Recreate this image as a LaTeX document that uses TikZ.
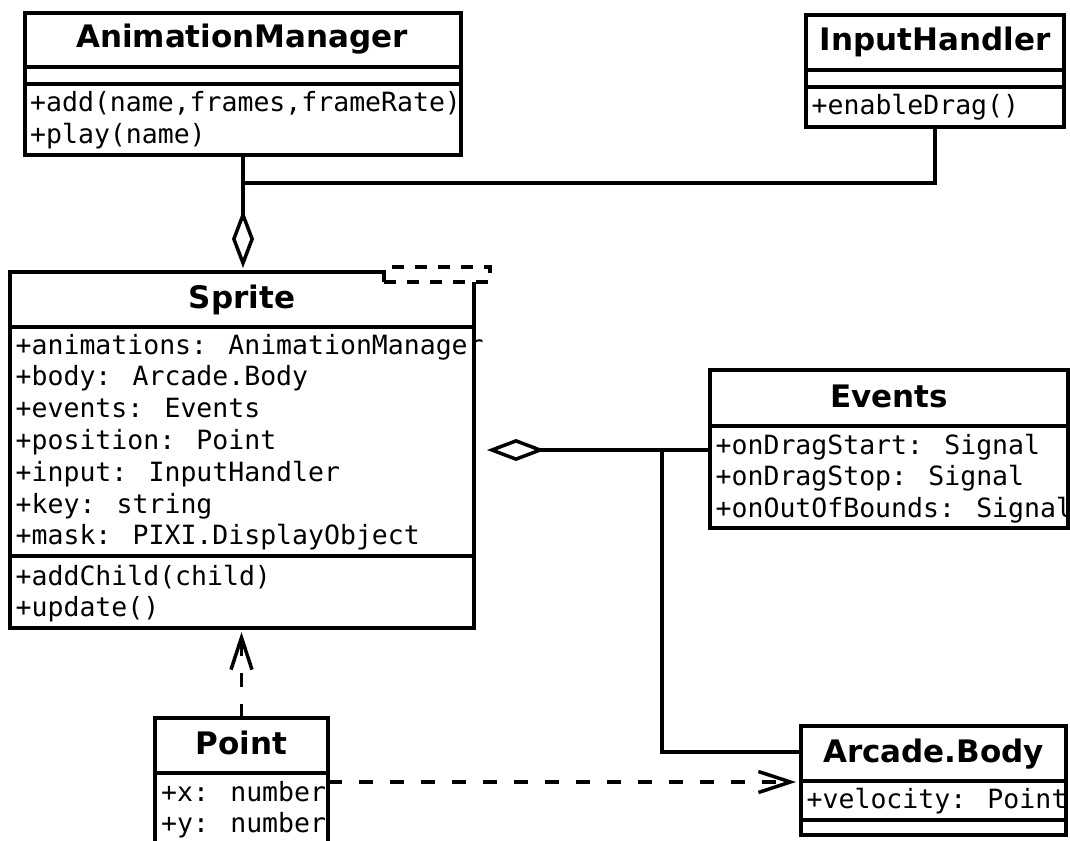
\documentclass[tikz,border=0pt]{standalone}
\usepackage{fontspec}
\newfontfamily\hdrfont{DejaVu Sans}
\newfontfamily\memfont{DejaVu Sans Mono}
\usetikzlibrary{arrows.meta,fit}
\tikzset{
  aggtip/.tip={Diamond[open, length=58pt, width=22pt]},
  opntip/.tip={Straight Barb[length=32pt, width=21pt]},
}
\begin{document}
\begin{tikzpicture}[x=1pt,y=-1pt,
  box/.style={draw, line width=3.5pt, inner sep=0pt, outer sep=0pt},
  sepline/.style={line width=3.5pt},
  hdr/.style={anchor=base, inner sep=0pt, font=\hdrfont\bfseries\fontsize{31}{37}\selectfont},
  mem/.style={anchor=base west, inner sep=0pt, font=\memfont\fontsize{26.5}{31.6}\selectfont},
  conn/.style={line width=3.5pt},
  dep/.style={conn, dash pattern=on 14pt off 17pt},
  tplbox/.style={draw, fill=white, line width=3.5pt, dash pattern=on 12pt off 11pt, inner sep=0pt, outer sep=0pt},
]
\useasboundingbox (0,0) rectangle (1070,840);

% ---------- texts ----------
% AnimationManager
\node[hdr] (amt) at (242,48) {AnimationManager};
\node[mem] (am1) at (30,112) {+add(name,frames,frameRate)};
\node[mem] (am2) at (30,143.6) {+play(name)};
% InputHandler
\node[hdr] (iht) at (935,51) {InputHandler};
\node[mem] (ih1) at (811.5,114) {+enableDrag()};
% Sprite
\node[hdr] (spt) at (242,308) {Sprite};
\foreach \t [count=\i from 0] in {{+animations: AnimationManager},{+body: Arcade.Body},{+events: Events},{+position: Point},{+input: InputHandler},{+key: string},{+mask: PIXI.DisplayObject}}
  \node[mem] (spa\i) at (15.5,354+31.8*\i) {\t};
\node[mem] (spo0) at (15.5,585) {+addChild(child)};
\node[mem] (spo1) at (15.5,616.7) {+update()};
% Events
\node[hdr] (evt) at (889,407) {Events};
\node[mem] (ev0) at (715.5,454) {+onDragStart: Signal};
\node[mem] (ev1) at (715.5,485.6) {+onDragStop: Signal};
\node[mem] (ev2) at (715.5,517.2) {+onOutOfBounds: Signal};
% Arcade.Body
\node[hdr] (abt) at (933.5,762) {Arcade.Body};
\node[mem] (ab0) at (806.5,808) {+velocity: Point};
% Point
\node[hdr] (ptt) at (241.5,754.5) {Point};
\node[mem] (pt0) at (161,801.5) {+x: number};
\node[mem] (pt1) at (161,832) {+y: number};

% ---------- boxes ----------
\node[box, fit={(25,13) (461,155)}] (am) {};
\draw[sepline] (am.west |- 0,67) -- (am.east |- 0,67);
\draw[sepline] (am.west |- 0,84) -- (am.east |- 0,84);

\node[box, fit={(806,15) (1064,127)}] (ih) {};
\draw[sepline] (ih.west |- 0,70) -- (ih.east |- 0,70);
\draw[sepline] (ih.west |- 0,87) -- (ih.east |- 0,87);

\node[box, fit={(10,272) (474,628)}] (sprite) {};
\draw[sepline] (sprite.west |- 0,327) -- (sprite.east |- 0,327);
\draw[sepline] (sprite.west |- 0,556) -- (sprite.east |- 0,556);
\node[tplbox, fit={(384,267) (490,282)}] (tpl) {};

\node[box, fit={(710,370) (1068,528)}] (events) {};
\draw[sepline] (events.west |- 0,426) -- (events.east |- 0,426);

\node[box, fit={(801,726) (1066,835)}] (ab) {};
\draw[sepline] (ab.west |- 0,781) -- (ab.east |- 0,781);
\draw[sepline] (ab.west |- 0,820) -- (ab.east |- 0,820);

\node[box, fit={(155,718) (328,846)}] (pt) {};
\draw[sepline] (pt.west |- 0,773) -- (pt.east |- 0,773);

% ---------- connectors ----------
\coordinate (j1) at (243,183);
\coordinate (j2) at (662,450);
\draw[conn, -{aggtip}] (am.south) -- ([yshift=4pt]am.south |- sprite.north);
\draw[conn] (ih.south) |- (j1);
\draw[conn, {aggtip}-] ([xshift=13pt]sprite.east) -- (sprite.east -| events.west);
\draw[conn] (j2) |- ([yshift=28.5pt]ab.west);
\draw[dep, -{opntip}] (pt.north) -- ([yshift=-4pt]pt.north |- sprite.south);
\draw[dep, -{opntip}] (pt.east) -- ([xshift=-5pt]pt.east -| ab.west);
\end{tikzpicture}
\end{document}
